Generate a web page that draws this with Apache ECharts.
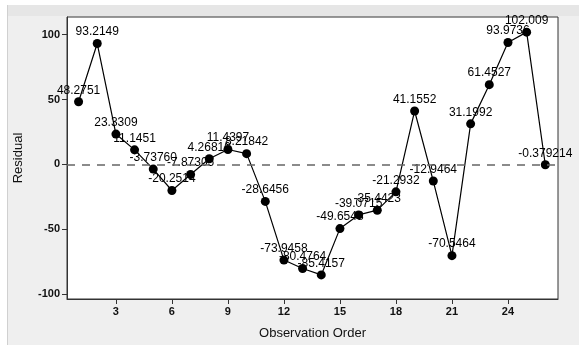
<!DOCTYPE html>
<html>
<head>
<meta charset="utf-8">
<script src="https://cdn.jsdelivr.net/npm/echarts@6/dist/echarts.min.js"></script>
<style>
  html, body { margin: 0; padding: 0; background: #ffffff; }
  #chart { width: 579px; height: 345px; }
</style>
</head>
<body>
<div id="chart"></div>
<script>
// Residuals versus observation order
const observationOrder = [1, 2, 3, 4, 5, 6, 7, 8, 9, 10, 11, 12, 13, 14, 15, 16, 17, 18, 19, 20, 21, 22, 23, 24, 25, 26];
const residualLabels = ['48.2751', '93.2149', '23.3309', '11.1451', '-3.73760', '-20.2514', '-7.87305', '4.26810', '11.4397', '8.21842',
  '-28.6456', '-73.9458', '-80.4764', '-85.4157', '-49.6548', '-39.0715', '-35.4423', '-21.2932', '41.1552', '-12.9464',
  '-70.5464', '31.1992', '61.4527', '93.9736', '102.009', '-0.379214'];
const residuals = residualLabels.map(Number);
const xTicks = [3, 6, 9, 12, 15, 18, 21, 24];
const yTicks = [-100, -50, 0, 50, 100];

const font = 'Liberation Sans, Arial, Helvetica, sans-serif';
const chart = echarts.init(document.getElementById('chart'), null, { renderer: 'canvas' });

chart.setOption({
  backgroundColor: '#efefef',
  animation: false,
  graphic: [
    { type: 'rect', shape: { x: 0, y: 0, width: 7, height: 345 }, style: { fill: '#ffffff' }, silent: true },
    { type: 'rect', shape: { x: 0, y: 0, width: 579, height: 5 }, style: { fill: '#ffffff' }, silent: true },
    { type: 'rect', shape: { x: 7, y: 5, width: 572, height: 11 }, style: { fill: '#e6e6e6' }, silent: true },
    { type: 'line', shape: { x1: 7.5, y1: 5, x2: 7.5, y2: 345 }, style: { stroke: '#d0d0d0', lineWidth: 1 }, silent: true }
  ],
  grid: {
    left: 67, right: 21, top: 17, bottom: 42,
    show: true, backgroundColor: '#ffffff', borderColor: '#333333', borderWidth: 1
  },
  xAxis: {
    type: 'value',
    min: 0.38, max: 26.68,
    name: 'Observation Order',
    nameLocation: 'middle',
    nameGap: 28,
    nameTextStyle: { fontFamily: font, fontSize: 13, color: '#111' },
    axisLine: { show: true, onZero: false, lineStyle: { color: '#333', width: 1 } },
    axisTick: { show: true, length: 5, customValues: xTicks, lineStyle: { color: '#333' } },
    axisLabel: { customValues: xTicks, fontFamily: font, fontSize: 11, fontWeight: 'bold', color: '#111', margin: 7 },
    splitLine: { show: false }
  },
  yAxis: {
    type: 'value',
    min: -104, max: 113.7,
    name: 'Residual',
    nameLocation: 'middle',
    nameGap: 42,
    nameRotate: 90,
    nameTextStyle: { fontFamily: font, fontSize: 13, color: '#111' },
    axisLine: { show: true, onZero: false, lineStyle: { color: '#333', width: 1 } },
    axisTick: { show: true, length: 5, customValues: yTicks, lineStyle: { color: '#333' } },
    axisLabel: { customValues: yTicks, fontFamily: font, fontSize: 11, fontWeight: 'bold', color: '#111', margin: 7 },
    splitLine: { show: false }
  },
  series: [{
    type: 'line',
    data: observationOrder.map((x, i) => [x, residuals[i]]),
    symbol: 'circle',
    symbolSize: 9,
    itemStyle: { color: '#000' },
    lineStyle: { color: '#000', width: 1.2 },
    label: {
      show: true,
      position: 'top',
      distance: 1,
      fontFamily: font,
      fontSize: 12,
      color: '#000',
      formatter: p => residualLabels[p.dataIndex]
    },
    labelLayout: { hideOverlap: false },
    markLine: {
      silent: true,
      symbol: 'none',
      label: { show: false },
      lineStyle: { color: '#666', type: [8, 7], width: 1.5 },
      data: [{ yAxis: 0 }]
    },
    z: 3
  }]
});
</script>
</body>
</html>
